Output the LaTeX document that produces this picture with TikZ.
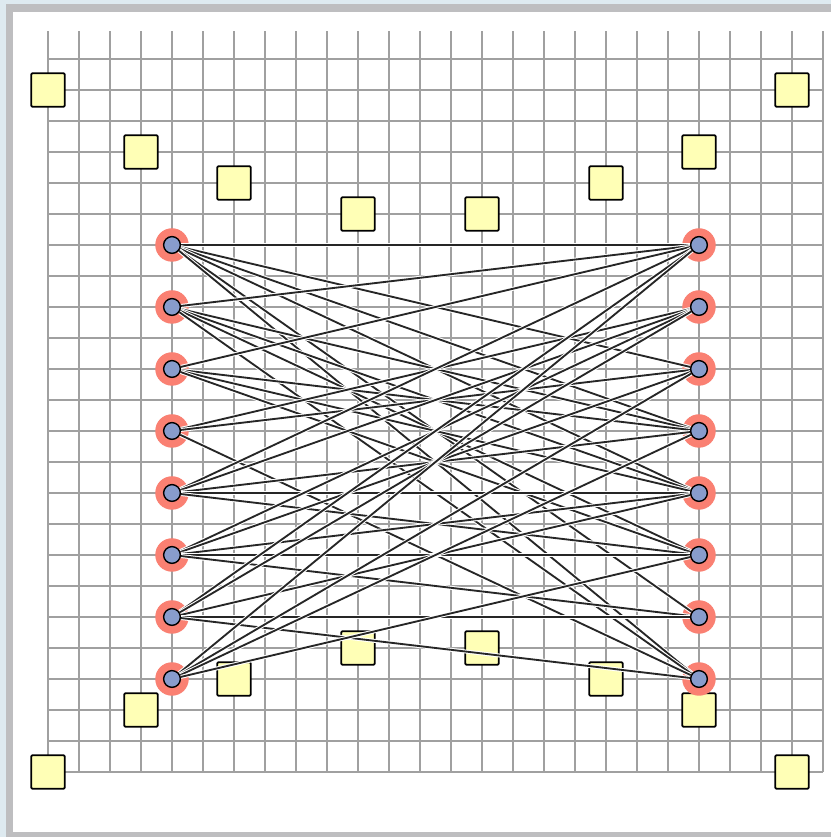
\documentclass[tikz,border=0pt]{standalone}
\usetikzlibrary{positioning}
\definecolor{gridGray}{RGB}{160,160,160}
\definecolor{frameGray}{RGB}{190,190,192}
\definecolor{skyBack}{RGB}{222,234,240}
\definecolor{padYellow}{RGB}{255,255,182}
\definecolor{hubBlue}{RGB}{136,156,204}
\definecolor{haloRed}{RGB}{250,128,114}
\pgfdeclarelayer{back}
\pgfdeclarelayer{mid}
\pgfsetlayers{back,mid,main}

\begin{document}
\begin{tikzpicture}[
      pad/.style={draw, line width=1.7pt, fill=padYellow, rounded corners=1pt, minimum size=1.08cm, inner sep=0pt},
      hub/.style={circle, draw, line width=1.3pt, fill=hubBlue, minimum size=0.54cm, inner sep=0pt},
      link/.style={line width=1.7pt, black!85, preaction={draw=white, line width=3.6pt}}
    ]
      \clip (-1.548,-2.097) rectangle (25.258,24.903);
      \begin{pgfonlayer}{back}
        \fill[skyBack] (-1.548,-2.097) rectangle (25.258,24.903);
        \fill[frameGray] (-1.355,-2.4) rectangle (25.6,24.77);
        \fill[white] (-1.129,-1.935) rectangle (25.4,24.516);
        \draw[gridGray, line width=1.2pt] (0,0) grid (25,23.9);
        \node[pad] (pn1) at (0,22) {};
        \node[pad] (pn2) at (3,20) {};
        \node[pad] (pn3) at (6,19) {};
        \node[pad] (pn4) at (10,18) {};
        \node[pad] (pn5) at (14,18) {};
        \node[pad] (pn6) at (18,19) {};
        \node[pad] (pn7) at (21,20) {};
        \node[pad] (pn8) at (24,22) {};
        \node[pad] (ps1) at (0,0) {};
        \node[pad] (ps2) at (3,2) {};
        \node[pad] (ps3) at (6,3) {};
        \node[pad] (ps4) at (10,4) {};
        \node[pad] (ps5) at (14,4) {};
        \node[pad] (ps6) at (18,3) {};
        \node[pad] (ps7) at (21,2) {};
        \node[pad] (ps8) at (24,0) {};
      \end{pgfonlayer}

      \node[hub] (l1) at (4,17) {};
      \node[hub] (l2) at (4,15) {};
      \node[hub] (l3) at (4,13) {};
      \node[hub] (l4) at (4,11) {};
      \node[hub] (l5) at (4,9) {};
      \node[hub] (l6) at (4,7) {};
      \node[hub] (l7) at (4,5) {};
      \node[hub] (l8) at (4,3) {};
      \node[hub] (r1) at (21,17) {};
      \node[hub] (r2) at (21,15) {};
      \node[hub] (r3) at (21,13) {};
      \node[hub] (r4) at (21,11) {};
      \node[hub] (r5) at (21,9) {};
      \node[hub] (r6) at (21,7) {};
      \node[hub] (r7) at (21,5) {};
      \node[hub] (r8) at (21,3) {};

      \begin{pgfonlayer}{mid}
        \fill[haloRed] (l1) circle (0.54) (l2) circle (0.54) (l3) circle (0.54) (l4) circle (0.54)
          (l5) circle (0.54) (l6) circle (0.54) (l7) circle (0.54) (l8) circle (0.54);
        \fill[haloRed] (r1) circle (0.54) (r2) circle (0.54) (r3) circle (0.54) (r4) circle (0.54)
          (r5) circle (0.54) (r6) circle (0.54) (r7) circle (0.54) (r8) circle (0.54);
        \draw[link] (l1) -- (r1); \draw[link] (l1) -- (r3); \draw[link] (l1) -- (r4);
        \draw[link] (l1) -- (r5); \draw[link] (l1) -- (r7); \draw[link] (l1) -- (r8);
        \draw[link] (l2) -- (r1); \draw[link] (l2) -- (r4); \draw[link] (l2) -- (r5);
        \draw[link] (l2) -- (r6); \draw[link] (l2) -- (r8);
        \draw[link] (l3) -- (r1); \draw[link] (l3) -- (r4); \draw[link] (l3) -- (r5);
        \draw[link] (l3) -- (r6);
        \draw[link] (l4) -- (r2); \draw[link] (l4) -- (r3); \draw[link] (l4) -- (r8);
        \draw[link] (l5) -- (r1); \draw[link] (l5) -- (r2); \draw[link] (l5) -- (r4);
        \draw[link] (l5) -- (r5); \draw[link] (l5) -- (r6);
        \draw[link] (l6) -- (r2); \draw[link] (l6) -- (r3);
        \draw[link] (l6) -- (r5); \draw[link] (l6) -- (r6); \draw[link] (l6) -- (r7);
        \draw[link] (l7) -- (r1); \draw[link] (l7) -- (r2); \draw[link] (l7) -- (r5);
        \draw[link] (l7) -- (r7); \draw[link] (l7) -- (r8);
        \draw[link] (l8) -- (r1); \draw[link] (l8) -- (r3); \draw[link] (l8) -- (r4);
        \draw[link] (l8) -- (r6);
      \end{pgfonlayer}
    \end{tikzpicture}
\end{document}
